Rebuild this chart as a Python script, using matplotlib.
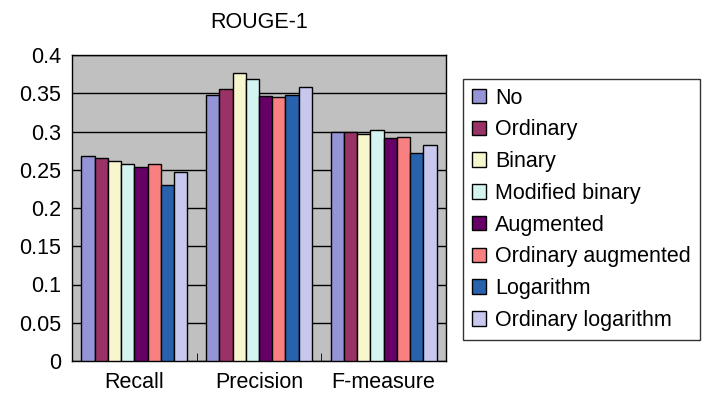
import numpy as np
import matplotlib
matplotlib.use('Agg')
import matplotlib.pyplot as plt
from matplotlib.ticker import FixedLocator

plt.rcParams['font.family'] = ['Liberation Sans', 'DejaVu Sans']

measures = ["Recall", "Precision", "F-measure"]
schemes = ["No", "Ordinary", "Binary", "Modified binary", "Augmented",
           "Ordinary augmented", "Logarithm", "Ordinary logarithm"]
colors = ["#9494d6", "#993366", "#f8f6cc", "#d4f4f2", "#660066",
          "#f88080", "#2862ac", "#c8c8ee"]

# one row per weighting scheme: recall, precision, f-measure
no_w = [0.268, 0.348, 0.299]
ordinary = [0.266, 0.356, 0.299]
binary = [0.261, 0.377, 0.297]
mod_binary = [0.257, 0.369, 0.302]
augmented = [0.254, 0.347, 0.291]
ord_aug = [0.257, 0.345, 0.293]
logarithm = [0.230, 0.348, 0.272]
ord_log = [0.247, 0.358, 0.282]
values = [no_w, ordinary, binary, mod_binary, augmented, ord_aug, logarithm, ord_log]

W, H = 708, 393
fig = plt.figure(figsize=(W / 100, H / 100), dpi=100)
ax = fig.add_axes([72 / W, 1 - 361 / H, (446 - 72) / W, (361 - 55) / H])
ax.set_facecolor('#c0c0c0')

x = np.arange(len(measures))
bw = 0.85 / len(schemes)
for i, (name, vals) in enumerate(zip(schemes, values)):
    off = (i - (len(schemes) - 1) / 2) * bw
    ax.bar(x + off, vals, bw, color=colors[i], edgecolor='black',
           linewidth=1, label=name, zorder=3)

ax.set_xlim(-0.5, 2.5)
ax.set_ylim(0, 0.4)
ax.set_yticks(np.arange(0, 0.401, 0.05))
ax.set_yticklabels(['0', '0.05', '0.1', '0.15', '0.2', '0.25', '0.3', '0.35', '0.4'])
ax.yaxis.grid(True, color='black', linewidth=1, zorder=1)
ax.set_axisbelow(True)
ax.tick_params(axis='y', length=0, pad=8, labelsize=15.5)
ax.set_xticks(x)
ax.set_xticklabels(measures)
ax.tick_params(axis='x', length=0, pad=8, labelsize=15.5)
ax.xaxis.set_minor_locator(FixedLocator([0.5, 1.5]))
ax.tick_params(axis='x', which='minor', direction='in', length=6, color='black')
for s in ax.spines.values():
    s.set_color('black')
    s.set_linewidth(1)

fig.text(259 / W, 1 - 22 / H, "ROUGE-1", ha='center', va='center', fontsize=15.5)

leg = ax.legend(loc='upper left', bbox_to_anchor=(463 / W, 1 - 79 / H),
                bbox_transform=fig.transFigure, borderaxespad=0,
                fontsize=15.5, frameon=True, fancybox=False,
                handlelength=0.65, handleheight=0.65, handletextpad=0.45,
                labelspacing=0.5, borderpad=0.4)
leg.get_frame().set_edgecolor('black')
leg.get_frame().set_linewidth(1)
for p in leg.get_patches():
    p.set_linewidth(1)

fig.savefig('out.png', dpi=100)
